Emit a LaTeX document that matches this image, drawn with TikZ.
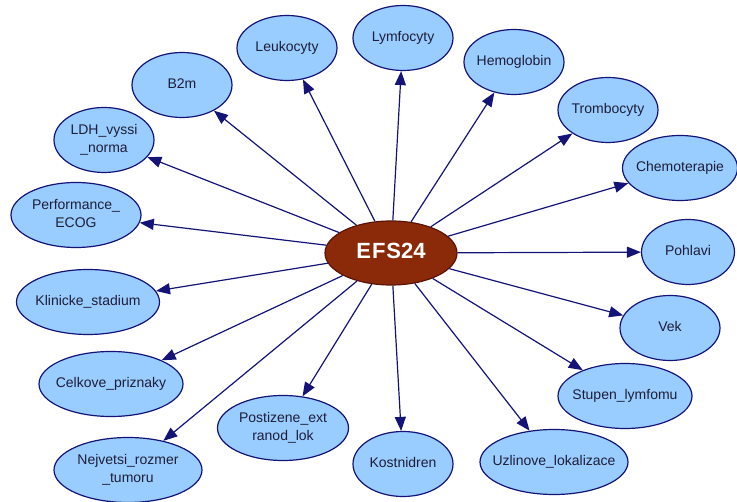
\documentclass[tikz,border=0pt]{standalone}
\usepackage{fontspec}
\setmainfont{Liberation Sans}
\usetikzlibrary{shapes.geometric,arrows.meta}
\definecolor{varfill}{RGB}{153,204,255}
\definecolor{varline}{RGB}{20,20,120}
\definecolor{rootfill}{RGB}{139,42,8}
\definecolor{rootline}{RGB}{90,20,5}
\definecolor{labeltext}{RGB}{30,30,55}
\newcommand\lbl[1]{\makebox[0pt]{\begin{tabular}{@{}c@{}}#1\end{tabular}}}
\tikzset{
  var/.style={ellipse, draw=varline, fill=varfill, line width=1.2pt,
    minimum width=#1, minimum height=65pt, inner sep=0pt,
    text=labeltext, font=\fontsize{14}{18.5}\selectfont},
  var/.default=100pt,
  root/.style={ellipse, draw=rootline, fill=rootfill, line width=1.2pt,
    minimum width=132pt, minimum height=64pt, inner sep=0pt,
    text=white, font=\bfseries\fontsize{22}{26}\selectfont},
  link/.style={draw=varline, line width=1.2pt,
    -{Triangle[length=14pt,width=11pt]}}
}
\begin{document}
\begin{tikzpicture}[x=1pt,y=-1pt]
  \useasboundingbox (0,0) rectangle (737,502);
  \fill[white] (0,0) rectangle (737,502);

  \node[root] (efs) at (391,253) {\lbl{E\kern1ptF\kern1ptS24}};

  \node[var] (b2m)   at (182,85)  {\lbl{B2m}};
  \node[var] (leuk)  at (287,48)  {\lbl{Leukocyty}};
  \node[var] (lymf)  at (403,38)  {\lbl{Lymfocyty}};
  \node[var] (hemo)  at (514,62)  {\lbl{Hemoglobin}};
  \node[var] (tromb) at (608,110) {\lbl{Trombocyty}};
  \node[var=115pt] (chemo) at (680,168) {\lbl{Chemoterapie}};
  \node[var=93pt]  (pohl)  at (688,252) {\lbl{Pohlavi}};
  \node[var] (vek)   at (670,328) {\lbl{Vek}};
  \node[var=134pt] (stup)  at (625,396) {\lbl{Stupen\_lymfomu}};
  \node[var=148pt] (uzl)   at (554,462) {\lbl{Uzlinove\_lokalizace}};
  \node[var] (kost)  at (403,464) {\lbl{Kostnidren}};
  \node[var=131pt] (post)  at (283,428) {\lbl{Postizene\_ext\\ranod\_lok}};
  \node[var=148pt] (nejv)  at (128,470) {\lbl{Nejvetsi\_rozmer\\\_tumoru}};
  \node[var=144pt] (celk)  at (111,384) {\lbl{Celkove\_priznaky}};
  \node[var=143pt] (klin)  at (88,302)  {\lbl{Klinicke\_stadium}};
  \node[var=130pt] (perf)  at (76,215)  {\lbl{Performance\_\\ECOG}};
  \node[var] (ldh)   at (104,140) {\lbl{LDH\_vyssi\\\_norma}};

  \foreach \t in {b2m,leuk,lymf,hemo,tromb,chemo,pohl,vek,stup,uzl,kost,post,nejv,celk,klin,perf,ldh}
    \draw[link] (efs) -- (\t);
\end{tikzpicture}
\end{document}
